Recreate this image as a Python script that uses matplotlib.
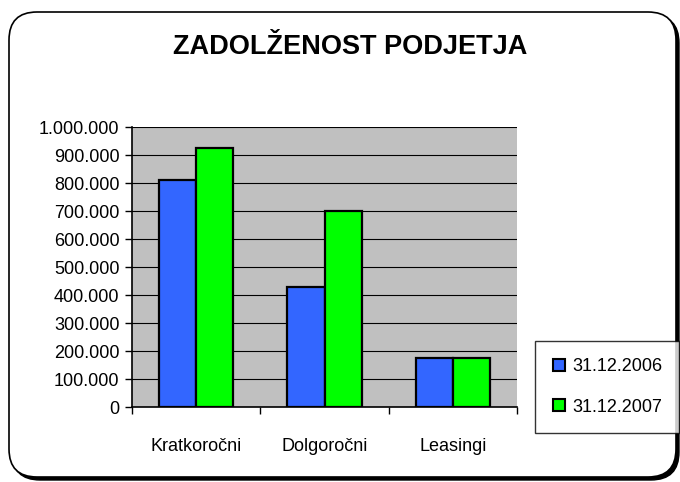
import numpy as np
import matplotlib.pyplot as plt
from matplotlib.patches import FancyBboxPatch
from matplotlib.lines import Line2D

plt.rcParams['font.family'] = ['Liberation Sans', 'DejaVu Sans']

# data
categories = ['Kratkoročni', 'Dolgoročni', 'Leasingi']
series_names = ['31.12.2006', '31.12.2007']
vals_2006 = [810000, 430000, 175000]
vals_2007 = [925000, 700000, 175000]
colors = ['#3366FF', '#00FF00']

fig = plt.figure(figsize=(6.8, 4.82), dpi=100)

# background frame with rounded corners and shadow (pixel coords)
bg = fig.add_axes([0, 0, 1, 1])
bg.set_xlim(0, 680)
bg.set_ylim(482, 0)
bg.axis('off')
shadow = FancyBboxPatch((12, 15), 667, 465, boxstyle='round,pad=0,rounding_size=28',
                        facecolor='black', edgecolor='black', lw=1)
bg.add_patch(shadow)
frame = FancyBboxPatch((9, 12), 667, 465, boxstyle='round,pad=0,rounding_size=28',
                       facecolor='white', edgecolor='black', lw=1.2)
bg.add_patch(frame)

ax = fig.add_axes([132/680, 1 - 407/482, 385/680, 280/482])
ax.set_facecolor('#C0C0C0')

x = np.arange(len(categories))
w = 0.29
ax.bar(x - w/2, vals_2006, w, color=colors[0], edgecolor='black', lw=1.6, zorder=3)
ax.bar(x + w/2, vals_2007, w, color=colors[1], edgecolor='black', lw=1.6, zorder=3)

ax.set_xlim(-0.5, 2.5)
ax.set_ylim(0, 1000000)
yt = np.arange(0, 1000001, 100000)
ax.set_yticks(yt)
ax.set_yticklabels([f'{v:,}'.replace(',', '.') for v in yt], fontsize=13)
ax.yaxis.grid(True, color='black', lw=0.8, zorder=1)
ax.set_axisbelow(True)

ax.set_xticks([-0.5, 0.5, 1.5, 2.5])
ax.set_xticklabels([])
ax.set_xticks(x, minor=True)
ax.set_xticklabels(categories, minor=True, fontsize=13)
ax.tick_params(axis='x', which='minor', length=0, pad=22)
ax.tick_params(axis='both', which='major', length=5, width=1, direction='out')
ax.tick_params(axis='y', pad=4)

for s in ['top', 'right']:
    ax.spines[s].set_visible(False)
ax.spines['left'].set_linewidth(1.2)
ax.spines['bottom'].set_linewidth(1.2)

fig.text(350/680, 1 - 47/482, 'ZADOLŽENOST PODJETJA', ha='center', va='center',
         fontsize=19.5, fontweight='bold')

handles = [Line2D([], [], marker='s', ls='none', markersize=8, markerfacecolor=c,
                  markeredgecolor='black', markeredgewidth=1.5) for c in colors]
leg = fig.legend(handles, series_names, loc='center', bbox_to_anchor=(607/680, 1 - 387/482),
                 fontsize=13, frameon=True, fancybox=False, edgecolor='black',
                 handlelength=0.8, handletextpad=0.3, labelspacing=1.3, borderpad=0.95,
                 borderaxespad=0)
leg.get_frame().set_linewidth(1)

fig.savefig('out.png', dpi=100)
